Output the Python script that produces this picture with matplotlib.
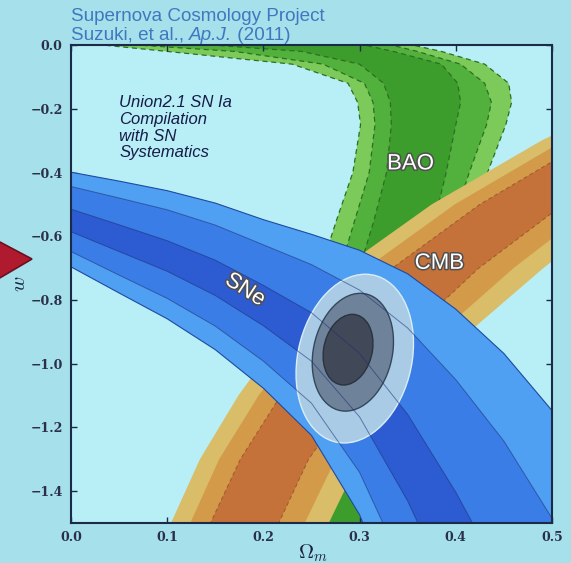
import matplotlib
matplotlib.use("Agg")
import matplotlib.pyplot as plt
import matplotlib.patheffects as pe
from matplotlib.patches import Ellipse, Polygon
import numpy as np

# SNe band: w of each contour edge, read at these Omega_m values
sn_om = [0.0, 0.05, 0.1, 0.15, 0.2, 0.25, 0.3, 0.35, 0.4, 0.45, 0.5]
sn_top_3 = [-0.399, -0.427, -0.457, -0.496, -0.548, -0.594, -0.644, -0.718, -0.829, -0.968, -1.147]
sn_top_2 = [-0.444, -0.480, -0.517, -0.565, -0.627, -0.689, -0.769, -0.888, -1.050, -1.243, -1.485]
sn_top_1 = [-0.515, -0.564, -0.614, -0.675, -0.754, -0.840, -0.968, -1.159, -1.403, -1.682, -2.026]
sn_bot_1 = [-0.586, -0.648, -0.710, -0.786, -0.881, -0.992, -1.167, -1.431, -1.756, -2.122, -2.566]
sn_bot_2 = [-0.648, -0.722, -0.795, -0.882, -0.992, -1.124, -1.341, -1.669, -2.065, -2.507, -3.040]
sn_bot_3 = [-0.696, -0.778, -0.859, -0.956, -1.077, -1.225, -1.474, -1.850, -2.300, -2.800, -3.400]

# CMB band: Omega_m of each contour edge, read at these w values
cmb_w = [-1.6, -1.5, -1.3, -1.1, -0.9, -0.7, -0.5, -0.3, -0.2]
cmb_left_3 = [0.090, 0.104, 0.134, 0.174, 0.222, 0.282, 0.375, 0.489, 0.557]
cmb_left_2 = [0.108, 0.124, 0.154, 0.195, 0.245, 0.307, 0.399, 0.512, 0.579]
cmb_left_1 = [0.128, 0.145, 0.176, 0.218, 0.270, 0.334, 0.425, 0.537, 0.603]
cmb_right_1 = [0.200, 0.216, 0.247, 0.294, 0.353, 0.424, 0.512, 0.619, 0.681]
cmb_right_2 = [0.228, 0.243, 0.275, 0.324, 0.385, 0.460, 0.546, 0.651, 0.713]
cmb_right_3 = [0.252, 0.268, 0.300, 0.350, 0.414, 0.491, 0.576, 0.680, 0.740]

# BAO band: Omega_m of each contour edge, read at these w values
bao_w = [0.01, -0.02, -0.06, -0.12, -0.18, -0.25, -0.4, -0.55, -0.7, -1.0, -1.6]
bao_left_3 = [0.00, 0.10, 0.23, 0.288, 0.298, 0.301, 0.293, 0.276, 0.26, 0.24, 0.195]
bao_left_2 = [0.02, 0.17, 0.262, 0.305, 0.314, 0.316, 0.31, 0.295, 0.28, 0.26, 0.215]
bao_left_1 = [0.10, 0.24, 0.30, 0.325, 0.332, 0.333, 0.328, 0.315, 0.30, 0.28, 0.24]
bao_right_1 = [0.29, 0.335, 0.385, 0.402, 0.405, 0.40, 0.39, 0.378, 0.365, 0.345, 0.32]
bao_right_2 = [0.32, 0.36, 0.405, 0.43, 0.437, 0.432, 0.414, 0.398, 0.385, 0.365, 0.34]
bao_right_3 = [0.34, 0.385, 0.43, 0.455, 0.458, 0.452, 0.433, 0.415, 0.40, 0.38, 0.355]

# combined SNe+BAO+CMB contours (outer, middle, inner)
comb_om = [0.295, 0.293, 0.288]
comb_w = [-0.984, -0.964, -0.956]
comb_width = [0.120, 0.083, 0.051]
comb_height = [0.53, 0.37, 0.222]

xticks = [0.0, 0.1, 0.2, 0.3, 0.4, 0.5]
yticks = [0.0, -0.2, -0.4, -0.6, -0.8, -1.0, -1.2, -1.4]

bg = '#a6e0ea'
sn_colors = ['#4f9ff2', '#3b7de6', '#2c5bd2']
cmb_colors = ['#d9bd68', '#d39a4a', '#c4713a']
bao_colors = ['#7ccb5a', '#52b03c', '#3d9d2c']
comb_colors = ['#a9cbe6', '#6e8299', '#414958']
comb_edges = ['#d8eef8', '#34485c', '#2a3240']
title_color = '#3f78c0'

fig = plt.figure(figsize=(5.71, 5.63), dpi=100, facecolor=bg)
ax = fig.add_axes([0.1243, 0.071, 0.8424, 0.849])
ax.set_facecolor('#b8eef6')

# BAO
bao_levels = [(bao_left_3, bao_right_3), (bao_left_2, bao_right_2), (bao_left_1, bao_right_1)]
for (left, right), col in zip(bao_levels, bao_colors):
    ax.fill(np.r_[left, right[::-1]], np.r_[bao_w, bao_w[::-1]], color=col, lw=0, zorder=1)
    for edge in (left, right):
        ax.plot(edge, bao_w, color='#2e6e24', lw=0.9, ls=(0, (4, 3)), zorder=1.5)

# CMB
cmb_levels = [(cmb_left_3, cmb_right_3), (cmb_left_2, cmb_right_2), (cmb_left_1, cmb_right_1)]
for (left, right), col in zip(cmb_levels, cmb_colors):
    ax.fill(np.r_[left, right[::-1]], np.r_[cmb_w, cmb_w[::-1]], color=col, lw=0, zorder=2)
for edge in (cmb_left_1, cmb_right_1):
    ax.plot(edge, cmb_w, color='#8a4a20', lw=0.7, ls=(0, (4, 3)), alpha=0.7, zorder=2.5)

# SNe
sn_levels = [(sn_top_3, sn_bot_3), (sn_top_2, sn_bot_2), (sn_top_1, sn_bot_1)]
for (top, bot), col in zip(sn_levels, sn_colors):
    ax.fill(np.r_[sn_om, sn_om[::-1]], np.r_[top, bot[::-1]], color=col, lw=0, zorder=3)
ax.plot(sn_om, sn_top_3, color='#1f4aa0', lw=0.8, zorder=3.5)
ax.plot(sn_om, sn_bot_3, color='#1f4aa0', lw=0.8, zorder=3.5)

# combined
for i in range(3):
    ax.add_patch(Ellipse((comb_om[i], comb_w[i]), comb_width[i], comb_height[i], angle=-2.5,
                         facecolor=comb_colors[i], edgecolor=comb_edges[i], lw=1.0, zorder=4 + i * 0.1))

for edge in (sn_top_2, sn_top_1, sn_bot_1, sn_bot_2):
    ax.plot(sn_om, edge, color='#1a2f70', lw=0.7, alpha=0.55, zorder=4.6)

ax.set_xlim(0, 0.5)
ax.set_ylim(-1.5, 0)
ax.set_xticks(xticks)
ax.set_xticklabels(['%.1f' % t for t in xticks])
ax.set_yticks(yticks)
ax.set_yticklabels([('%.1f' % t).replace('-', '\u2212') for t in yticks])
ax.tick_params(direction='in', length=4, width=1, top=True, right=True, colors='#1a2a48',
               labelsize=9, pad=6)
for lab in ax.get_xticklabels() + ax.get_yticklabels():
    lab.set_family('DejaVu Serif')
    lab.set_fontweight('bold')
    lab.set_color('#2a3048')
for sp in ax.spines.values():
    sp.set_color('#1a2a48')
    sp.set_linewidth(1.5)
    sp.set_zorder(10)

ax.set_xlabel(r'$\Omega_m$', fontsize=15, color='#1a2040', math_fontfamily='cm')
ax.xaxis.set_label_coords(0.503, -0.040)
ax.set_ylabel(r'$w$', fontsize=15, color='#1a2040', math_fontfamily='cm')
ax.yaxis.set_label_coords(-0.088, 0.5)

label_fx = [pe.withStroke(linewidth=2.2, foreground='#505050')]
ax.text(0.353, -0.373, 'BAO', fontsize=16, color='white', ha='center', va='center',
        family='Liberation Sans', path_effects=label_fx, zorder=8)
ax.text(0.383, -0.685, 'CMB', fontsize=16, color='white', ha='center', va='center',
        family='Liberation Sans', path_effects=label_fx, zorder=8)
ax.text(0.181, -0.769, 'SNe', fontsize=16, color='white', ha='center', va='center',
        rotation=-33, family='Liberation Sans', path_effects=label_fx, zorder=8)
ax.text(0.05, -0.157, 'Union2.1 SN Ia\nCompilation\nwith SN\nSystematics', fontsize=12,
        style='italic', color='#161c48', ha='left', va='top', linespacing=1.15,
        family='Liberation Sans', zorder=8)

fig.text(71 / 571, 1 - 21 / 563, 'Supernova Cosmology Project', fontsize=13.6,
         color=title_color, family='Liberation Sans', va='baseline')
t1 = fig.text(71 / 571, 1 - 40 / 563, 'Suzuki, et al.,\u00a0', fontsize=13.6,
              color=title_color, family='Liberation Sans', va='baseline')
t2 = fig.add_artist(matplotlib.text.Annotation('Ap.J.', xy=(1, 0), xycoords=t1, fontsize=13.6,
                    style='italic', color=title_color, family='Liberation Sans', va='bottom'))
fig.add_artist(matplotlib.text.Annotation('\u00a0(2011)', xy=(1, 0), xycoords=t2, fontsize=13.6,
               color=title_color, family='Liberation Sans', va='bottom'))

# red pointer on the slide edge
pointer = [(-2 / 571, 1 - 241 / 563), (32 / 571, 1 - 259 / 563), (-2 / 571, 1 - 279 / 563)]
fig.add_artist(Polygon(pointer, closed=True, transform=fig.transFigure,
                       facecolor='#b01a2e', edgecolor='#6a1020', lw=1.2))

fig.savefig('out.png', dpi=100, facecolor=bg)
